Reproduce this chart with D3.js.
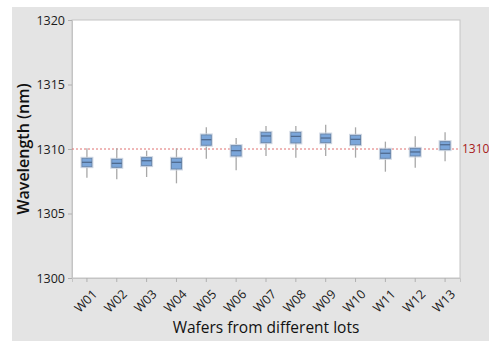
<!DOCTYPE html>
<html>
<head>
<meta charset="utf-8">
<script src="https://cdn.jsdelivr.net/npm/d3@7"></script>
<style>
  html, body { margin: 0; padding: 0; background: #ffffff; }
  svg { display: block; }
  text { font-family: "Open Sans", "Noto Sans", sans-serif; }
</style>
</head>
<body>
<svg id="chart" width="489" height="341"></svg>
<script>
// Wafer wavelength distributions (nm)
const wafers = ["W01","W02","W03","W04","W05","W06","W07","W08","W09","W10","W11","W12","W13"];
const whiskerLow  = [1307.78,1307.65,1307.83,1307.34,1309.25,1308.35,1309.46,1309.33,1309.46,1309.33,1308.24,1308.55,1309.05];
const q1          = [1308.63,1308.58,1308.71,1308.45,1310.29,1309.46,1310.49,1310.47,1310.49,1310.33,1309.28,1309.46,1309.95];
const median      = [1308.97,1308.89,1309.09,1308.97,1310.72,1309.87,1311.01,1310.98,1310.85,1310.75,1309.67,1309.77,1310.33];
const q3          = [1309.28,1309.20,1309.33,1309.28,1311.09,1310.26,1311.29,1311.29,1311.16,1311.06,1309.98,1310.05,1310.57];
const whiskerHigh = [1310.05,1310.05,1309.87,1310.05,1311.68,1310.85,1311.78,1311.78,1311.88,1311.68,1310.57,1310.98,1311.29];
const yTicks = [1300, 1305, 1310, 1315, 1320];
const referenceValue = 1310;

const svg = d3.select("#chart");
const W = 489, H = 341;
const plot = { left: 72, top: 20, right: 460, bottom: 278 };

// Figure background
svg.append("rect").attr("x", 12).attr("y", 7).attr("width", W - 12).attr("height", H - 7)
  .attr("fill", "#e4e4e4");

// Plot area
svg.append("rect").attr("x", plot.left).attr("y", plot.top)
  .attr("width", plot.right - plot.left).attr("height", plot.bottom - plot.top)
  .attr("fill", "#ffffff").attr("stroke", "#c4c4c4").attr("stroke-width", 1);

const x = d3.scaleBand().domain(wafers).range([plot.left, plot.right]).padding(0);
const y = d3.scaleLinear().domain([1300, 1320]).range([plot.bottom, plot.top]);

// Y axis
const yAxis = svg.append("g").attr("transform", `translate(${plot.left},0)`)
  .call(d3.axisLeft(y).tickValues(yTicks).tickFormat(d3.format("d")).tickSize(4).tickPadding(3));
yAxis.select(".domain").attr("stroke", "#c4c4c4");
yAxis.selectAll(".tick line").attr("stroke", "#b0b0b0");
yAxis.selectAll(".tick text").attr("font-size", 12.5).attr("font-weight", 500).attr("fill", "#1a1a1a");

// X axis
const xAxis = svg.append("g").attr("transform", `translate(0,${plot.bottom})`)
  .call(d3.axisBottom(x).tickSize(4).tickPadding(3));
xAxis.select(".domain").attr("stroke", "#c4c4c4");
xAxis.selectAll(".tick line").attr("stroke", "#b0b0b0");
xAxis.selectAll(".tick text")
  .attr("font-size", 12.5).attr("font-weight", 500).attr("fill", "#1a1a1a")
  .attr("text-anchor", "end")
  .attr("dy", "0.35em")
  .attr("transform", "translate(3,9) rotate(-45)");

// Reference line with its value label
svg.append("line")
  .attr("x1", plot.left).attr("x2", plot.right)
  .attr("y1", y(referenceValue)).attr("y2", y(referenceValue))
  .attr("stroke", "#e07070").attr("stroke-width", 1)
  .attr("stroke-dasharray", "2,2");
svg.append("text").attr("x", plot.right + 2).attr("y", y(referenceValue))
  .attr("dy", "0.36em").attr("font-size", 12).attr("fill", "#a8201a")
  .text(referenceValue);

// Boxes
const data = wafers.map((w, i) => ({
  w, lo: whiskerLow[i], q1: q1[i], med: median[i], q3: q3[i], hi: whiskerHigh[i]
}));
const boxW = 10;
const g = svg.append("g");
const box = g.selectAll("g.box").data(data).join("g").attr("class", "box")
  .attr("transform", d => `translate(${x(d.w) + x.bandwidth() / 2},0)`);

box.append("line")
  .attr("x1", 0).attr("x2", 0)
  .attr("y1", d => y(d.hi)).attr("y2", d => y(d.lo))
  .attr("stroke", "#a8a8a8").attr("stroke-width", 1.3);

box.append("rect")
  .attr("x", -boxW / 2 - 1).attr("width", boxW + 2)
  .attr("y", d => y(d.q3) - 1).attr("height", d => y(d.q1) - y(d.q3) + 2)
  .attr("fill", "none").attr("stroke", "#d0d8e4").attr("stroke-width", 1);

box.append("rect")
  .attr("x", -boxW / 2).attr("width", boxW)
  .attr("y", d => y(d.q3)).attr("height", d => y(d.q1) - y(d.q3))
  .attr("fill", "#7ba6da").attr("stroke", "#6a88ad").attr("stroke-width", 1);

box.append("line")
  .attr("x1", -boxW / 2).attr("x2", boxW / 2)
  .attr("y1", d => y(d.med)).attr("y2", d => y(d.med))
  .attr("stroke", "#4c6689").attr("stroke-width", 1.2);

// Axis titles
svg.append("text")
  .attr("transform", `translate(29,${(plot.top + plot.bottom) / 2}) rotate(-90)`)
  .attr("text-anchor", "middle").attr("font-size", 16).attr("font-weight", 600).attr("fill", "#111")
  .text("Wavelength (nm)");
svg.append("text")
  .attr("x", (plot.left + plot.right) / 2).attr("y", 333)
  .attr("text-anchor", "middle").attr("font-size", 15.5).attr("font-weight", 500).attr("fill", "#111")
  .text("Wafers from different lots");
</script>
</body>
</html>
